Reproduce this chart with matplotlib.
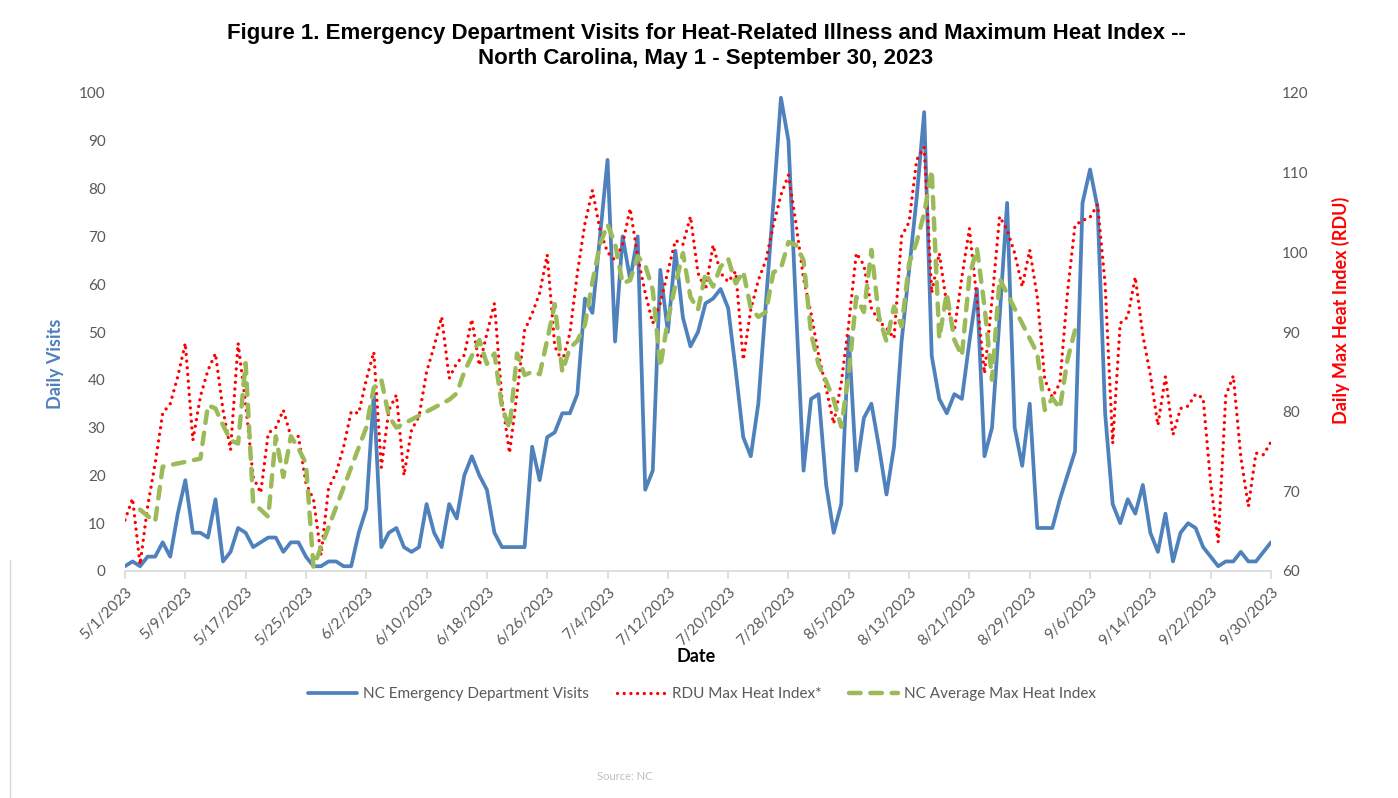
import matplotlib
matplotlib.use("Agg")
import matplotlib.pyplot as plt
import numpy as np
import pandas as pd
from matplotlib.lines import Line2D

# ---------------- data ----------------
start_date = "2023-05-01"
end_date = "2023-09-30"

ed_visits = [
    1, 2, 1, 3, 3, 6, 3, 12, 19, 8,
    8, 7, 15, 2, 4, 9, 8, 5, 6, 7,
    7, 4, 6, 6, 3, 1, 1, 2, 2, 1,
    1, 8, 13, 37, 5, 8, 9, 5, 4, 5,
    14, 8, 5, 14, 11, 20, 24, 20, 17, 8,
    5, 5, 5, 5, 26, 19, 28, 29, 33, 33,
    37, 57, 54, 70, 86, 48, 70, 61, 70, 17,
    21, 63, 50, 67, 53, 47, 50, 56, 57, 59,
    55, 42, 28, 24, 35, 56, 77, 99, 90, 55,
    21, 36, 37, 18, 8, 14, 49, 21, 32, 35,
    26, 16, 26, 48, 63, 78, 96, 45, 36, 33,
    37, 36, 48, 59, 24, 30, 53, 77, 30, 22,
    35, 9, 9, 9, 15, 20, 25, 77, 84, 76,
    33, 14, 10, 15, 12, 18, 8, 4, 12, 2,
    8, 10, 9, 5, 3, 1, 2, 2, 4, 2, 2, 4, 6,
]

rdu_heat_index = [
    66.4, 69.1, 60.8, 68.1, 73.5, 79.8, 81.0, 84.4, 88.6, 76.4,
    81.9, 85.2, 87.3, 80.2, 75.2, 88.6, 81.0, 71.8, 69.8, 77.3,
    78.0, 80.2, 76.9, 76.9, 71.0, 69.0, 62.0, 70.4, 72.3, 75.6,
    80.0, 79.8, 84.0, 87.5, 73.0, 80.2, 82.1, 72.0, 77.7, 79.4,
    85.0, 88.2, 91.9, 84.2, 86.1, 87.1, 91.6, 85.8, 89.8, 93.6,
    81.5, 74.8, 82.3, 90.2, 92.3, 94.9, 99.7, 88.2, 86.3, 89.8,
    97.4, 103.6, 107.8, 102.8, 100.0, 99.0, 101.0, 105.5, 99.5, 94.9,
    91.1, 93.6, 97.6, 101.5, 101.0, 104.5, 97.4, 95.3, 100.9, 97.4,
    96.3, 97.6, 86.5, 92.8, 96.5, 99.0, 103.4, 107.2, 109.7, 103.6,
    96.7, 92.3, 87.1, 82.9, 78.5, 83.6, 91.1, 99.9, 98.4, 93.0,
    91.3, 90.5, 89.2, 102.0, 103.8, 111.6, 113.2, 94.9, 99.9, 93.4,
    90.2, 96.9, 103.0, 94.0, 84.8, 94.0, 104.5, 102.8, 99.9, 95.7,
    100.3, 94.4, 84.0, 81.8, 83.6, 94.9, 103.4, 104.0, 104.4, 106.0,
    96.0, 76.0, 91.1, 91.9, 96.9, 89.6, 84.6, 78.3, 84.4, 77.1,
    80.4, 80.7, 82.2, 81.7, 71.0, 63.6, 82.0, 84.5, 74.3, 68.1, 74.8, 74.6, 76.2,
]

N = None
nc_avg_heat_index = [
    N, N, 67.7, 66.9, 66.2, 73.1, N, N, N, N,
    74.1, 80.8, 80.4, 78.3, 76.4, 76.0, 86.1, 68.5, 67.7, 66.8,
    76.9, 71.8, 76.9, 75.4, 73.5, 60.5, N, N, N, N,
    N, N, 78.0, 83.0, 84.0, 79.4, 78.0, N, N, N,
    N, N, N, 81.5, 82.3, 85.0, 87.0, 89.0, 86.0, 87.3,
    80.6, 77.9, 87.3, 84.6, 85.0, 84.7, 89.0, 93.5, 85.0, 88.0,
    88.9, 90.9, 96.3, 101.0, 103.5, 101.1, 96.1, 96.5, 99.5, 98.4,
    95.3, 85.6, 91.5, 95.9, 99.9, 94.4, 92.8, 97.4, 95.7, 98.2,
    99.2, 96.1, 97.6, 93.0, 91.9, 92.5, 97.5, 98.0, 101.3, 100.9,
    99.0, 89.8, 85.9, 83.8, 81.5, 78.1, 84.8, 94.4, 92.5, 100.3,
    91.9, 88.8, 93.2, 90.7, 98.6, 101.3, 104.9, 110.3, 89.2, 94.9,
    89.0, 87.0, 97.0, 100.5, 93.2, 84.0, 96.7, N, N, N,
    N, 87.3, 80.2, 81.7, 80.4, 86.5, 90.2, N, N, N,
    N, N, N, N, N, N, N, N, N, N,
    N, N, N, N, N, N, N, N, N, N, N, N, N,
]

series_names = ["NC Emergency Department Visits", "RDU Max Heat Index*",
                "NC Average Max Heat Index"]
left_ticks = list(range(0, 101, 10))
right_ticks = list(range(60, 121, 10))

title = ("Figure 1. Emergency Department Visits for Heat-Related Illness and Maximum Heat Index --\n"
         "North Carolina, May 1 - September 30, 2023")

# ---------------- styling ----------------
W, H = 1398, 798
BLUE = "#4F81BD"
RED = "#FF0000"
GREEN = "#9BBB59"
GRAY = "#595959"
AXIS_GRAY = "#D9D9D9"
FONT = "Lato"

dates = pd.date_range(start_date, end_date, freq="D")
ed = np.array(ed_visits, dtype=float)
rdu = np.array(rdu_heat_index, dtype=float)
nc = np.array([np.nan if v is None else v for v in nc_avg_heat_index], dtype=float)
nc_mask = ~np.isnan(nc)

fig = plt.figure(figsize=(W / 100, H / 100), dpi=100)
fig.patch.set_facecolor("white")

def fx(px):
    return px / W

def fy(py):
    return 1 - py / H

ax = fig.add_axes([fx(125), fy(571), fx(1271) - fx(125), fy(93) - fy(571)])
ax2 = ax.twinx()

blue_style = dict(color=BLUE, lw=2.7, solid_joinstyle="round", solid_capstyle="round")
red_style = dict(color=RED, lw=2.4, linestyle=(0, (0.01, 2.0)), dash_capstyle="round")
green_style = dict(color=GREEN, lw=3.2, linestyle=(0, (2.6, 2.2)), dash_capstyle="round")

ax.plot(dates, ed, **blue_style, zorder=3)
ax2.plot(dates, rdu, **red_style, zorder=3)
ax2.plot(dates[nc_mask], nc[nc_mask], **green_style, zorder=4)

ax.set_xlim(dates[0], dates[-1])
ax.set_ylim(0, 100)
ax2.set_ylim(60, 120)
ax.set_yticks(left_ticks)
ax2.set_yticks(right_ticks)

tick_dates = dates[::8]
ax.set_xticks(tick_dates)
ax.set_xticklabels([f"{d.month}/{d.day}/{d.year}" for d in tick_dates],
                   rotation=45, ha="right", va="top", rotation_mode="anchor")

for a in (ax, ax2):
    for s in a.spines.values():
        s.set_visible(False)
    a.set_facecolor("none")
ax.spines["bottom"].set_visible(True)
ax.spines["bottom"].set_color(AXIS_GRAY)
ax.spines["bottom"].set_linewidth(1.2)

ax.tick_params(axis="x", length=6, width=1.2, color=AXIS_GRAY, labelsize=11,
               labelcolor=GRAY, pad=4)
ax.tick_params(axis="y", length=0, labelsize=11, labelcolor=GRAY, pad=14)
ax2.tick_params(axis="y", length=0, labelsize=11, labelcolor=GRAY, pad=8)
for lab in ax.get_xticklabels() + ax.get_yticklabels() + ax2.get_yticklabels():
    lab.set_fontfamily(FONT)

# texts
fig.text(fx(706), fy(46), title, ha="center", va="center", fontsize=16,
         fontweight="bold", family="Liberation Sans", linespacing=1.28, color="black")
fig.text(fx(696), fy(656), "Date", ha="center", va="center", fontsize=13,
         fontweight="bold", family=FONT, color="black")
fig.text(fx(55), fy(364), "Daily Visits", ha="center", va="center", rotation=90,
         fontsize=13, fontweight="bold", family=FONT, color=BLUE)
fig.text(fx(1341), fy(310), "Daily Max Heat Index (RDU)", ha="center", va="center",
         rotation=90, fontsize=13, fontweight="bold", family=FONT, color=RED)

handles = [Line2D([], [], **blue_style),
           Line2D([], [], **red_style),
           Line2D([], [], **green_style)]
leg = fig.legend(handles, series_names, loc="center",
                 bbox_to_anchor=(fx(702), fy(694)), ncol=3, frameon=False,
                 handlelength=3.2, columnspacing=1.8, handletextpad=0.4,
                 prop={"family": FONT, "size": 11})
for t in leg.get_texts():
    t.set_color(GRAY)

fig.text(fx(597), fy(776), "Source: NC", fontsize=8, family=FONT, color="#BFBFBF",
         va="center")
fig.add_artist(Line2D([fx(10), fx(10)], [0, fy(560)], color=AXIS_GRAY, lw=1))

fig.savefig("out.png", dpi=100, facecolor="white")
